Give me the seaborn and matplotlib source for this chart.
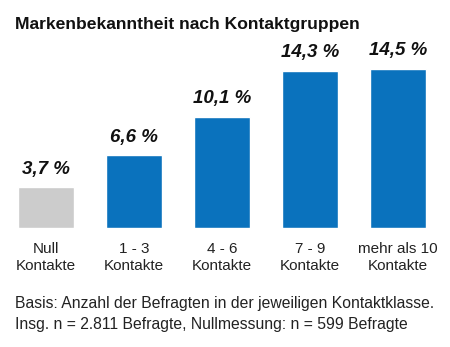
import matplotlib
matplotlib.use("Agg")
import matplotlib.pyplot as plt
import seaborn as sns
import pandas as pd

categories = ["Null\nKontakte", "1 - 3\nKontakte", "4 - 6\nKontakte", "7 - 9\nKontakte", "mehr als 10\nKontakte"]
values = [3.7, 6.6, 10.1, 14.3, 14.5]
value_labels = ["3,7 %", "6,6 %", "10,1 %", "14,3 %", "14,5 %"]
title = "Markenbekanntheit nach Kontaktgruppen"
footnote = ("Basis: Anzahl der Befragten in der jeweiligen Kontaktklasse.\n"
            "Insg. n = 2.811 Befragte, Nullmessung: n = 599 Befragte")

sns.set_style("white")
plt.rcParams['font.family'] = ['Liberation Sans', 'DejaVu Sans']

W, H = 450, 347
fig = plt.figure(figsize=(W / 100, H / 100), dpi=100)
ax_bottom = 228
ax_top = 40
ax = fig.add_axes([0, (H - ax_bottom) / H, 1, (ax_bottom - ax_top) / H])

df = pd.DataFrame({"cat": categories, "val": values})
palette = ["#CCCCCC"] + ["#0A72BD"] * 4
sns.barplot(data=df, x="cat", y="val", hue="cat", palette=palette, legend=False,
            width=56 / 88, ax=ax, saturation=1)

ax.set_xlim(-46 / 88, 4 + 52 / 88)
ax.set_ylim(0, (ax_bottom - ax_top) / 11.0)
for i, (v, lab) in enumerate(zip(values, value_labels)):
    ax.annotate(lab, (i, v), xytext=(0, 18), textcoords="offset pixels",
                ha="center", va="center", fontsize=13.5, fontweight="bold", style="italic",
                color="#111111")

ax.set_xlabel("")
ax.set_ylabel("")
ax.set_yticks([])
ax.tick_params(axis="x", length=0, pad=10, labelsize=11, labelcolor="#222222")
for s in ax.spines.values():
    s.set_visible(False)
for t in ax.get_xticklabels():
    t.set_linespacing(1.3)

fig.text(15 / W, 1 - 25 / H, title, ha="left", va="center", fontsize=12.6,
         fontweight="bold", color="#111111")
fig.text(15 / W, 1 - 314 / H, footnote, ha="left", va="center", fontsize=11.35,
         color="#222222", linespacing=1.5)

fig.savefig("out.png", dpi=100)
